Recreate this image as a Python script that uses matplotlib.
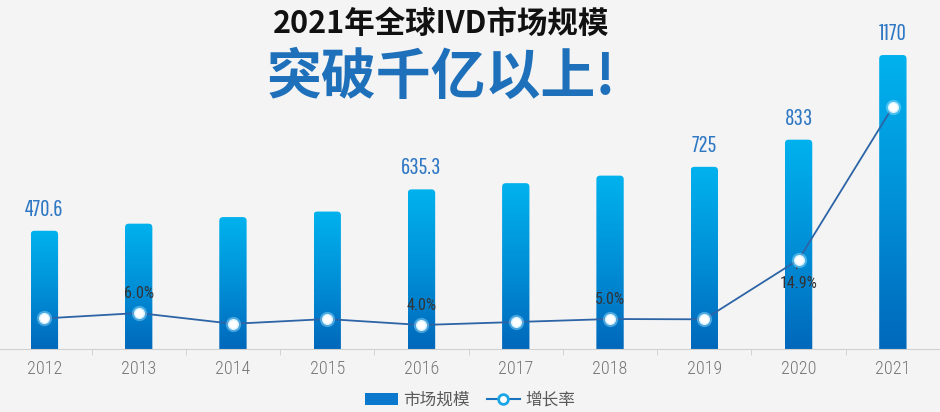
import matplotlib
matplotlib.use("Agg")
import matplotlib.pyplot as plt
import numpy as np
from matplotlib.colors import LinearSegmentedColormap
from matplotlib.patches import FancyBboxPatch, Patch, Rectangle
from matplotlib.lines import Line2D

plt.rcParams['font.family'] = ['Noto Sans CJK SC', 'DejaVu Sans']
plt.rcParams['hatch.color'] = '#e7e7e7'
plt.rcParams['hatch.linewidth'] = 0.6

years = ['2012', '2013', '2014', '2015', '2016', '2017', '2018', '2019', '2020', '2021']
market = [470.6, 498.8, 525, 547, 635.3, 660, 690, 725, 833, 1170]
growth = [5.1, 6.0, 4.2, 5.0, 4.0, 4.5, 5.0, 4.95, 14.9, 40.4]
bar_labels = {0: '470.6', 4: '635.3', 7: '725', 8: '833', 9: '1170'}
pct_labels = {1: '6.0%', 4: '4.0%', 6: '5.0%', 8: '14.9%'}

gothic = ['Pathway Gothic One', 'DejaVu Sans']
cond = ['Roboto Condensed', 'DejaVu Sans']
bg = '#f4f4f4'

fig = plt.figure(figsize=(9.4, 4.12), dpi=100, facecolor=bg)
# faint diagonal texture of the background
fig.patches.append(Rectangle((0, 0), 1, 1, transform=fig.transFigure, facecolor=bg,
                             edgecolor='none', hatch='\\\\\\\\\\\\\\\\\\\\', zorder=-10))

ax = fig.add_axes([0, 63 / 412, 1, 349 / 412])
ax.set_facecolor('none')
x = np.arange(len(years))

bars = ax.bar(x, market, width=0.29, color='none', zorder=2)
cmap = LinearSegmentedColormap.from_list('blu', ['#0068bb', '#0090d8', '#00b2ee'])
grad = np.linspace(0, 1, 256).reshape(-1, 1)
for b in bars:
    bx, bw, bh = b.get_x(), b.get_width(), b.get_height()
    clip = FancyBboxPatch((bx, -40), bw, bh + 40,
                          boxstyle="round,pad=0,rounding_size=0.04",
                          mutation_aspect=380, transform=ax.transData,
                          facecolor='none', edgecolor='none')
    ax.add_patch(clip)
    im = ax.imshow(grad, extent=[bx, bx + bw, 0, bh], origin='lower',
                   aspect='auto', cmap=cmap, zorder=2)
    im.set_clip_path(clip)

for i, lab in bar_labels.items():
    ax.annotate(lab, (x[i], market[i]), xytext=(0, 8), textcoords='offset points',
                ha='center', va='bottom', color='#2f78c4', fontsize=16.5,
                family=gothic)

ax.set_xlim(-0.471, 9.366)
ax.set_ylim(0, 1389)
ax.set_aspect('auto')
for s in ['top', 'right', 'left']:
    ax.spines[s].set_visible(False)
ax.spines['bottom'].set_color('#d0d0d0')
ax.set_yticks([])
ax.set_xticks(x + 0.5, minor=True)
ax.set_xticks(x)
ax.set_xticklabels(years, family=cond, fontsize=13, color='#767676', fontweight='light')
ax.tick_params(axis='x', which='major', length=0, pad=8)
ax.tick_params(axis='x', which='minor', length=4, color='#d0d0d0')

ax2 = ax.twinx()
ax2.set_ylim(0, 58.2)
ax2.axis('off')
ax2.plot(x, growth, color='#2c64a6', lw=1.3, zorder=3)
ax2.plot(x, growth, 'o', ms=11, mfc='#9fe0ff', mec='none', alpha=0.45, zorder=4)
ax2.plot(x, growth, 'o', ms=7, mfc='white', mec='#d8f2ff', mew=1, zorder=5)

for i, lab in pct_labels.items():
    if i == 8:
        ax2.annotate(lab, (x[i], growth[i]), xytext=(0, -12), textcoords='offset points',
                     ha='center', va='top', color='#333333', fontsize=11.5, family=cond)
        ax2.annotate('', (x[i] - 0.01, growth[i] - 0.8), xytext=(x[i] - 0.03, growth[i] - 2.0),
                     arrowprops=dict(arrowstyle='-', color='#404040', lw=0.8))
    else:
        ax2.annotate(lab, (x[i], growth[i]), xytext=(0, 9), textcoords='offset points',
                     ha='center', va='bottom', color='#333333', fontsize=11.5, family=cond)

fig.text(0.469, 0.942, '2021年全球IVD市场规模', ha='center', va='center',
         fontsize=22, fontweight='bold', color='#111111')
fig.text(0.469, 0.812, '突破千亿以上!', ha='center', va='center',
         fontsize=39.5, fontweight='bold', color='#1f70ba')

handles = [Patch(facecolor='#0a78cc', edgecolor='none'),
           Line2D([0], [0], color='#1a73c0', lw=1.5, marker='o', ms=7,
                  mfc='white', mec='#1aa6e6', mew=2)]
fig.legend(handles, ['市场规模', '增长率'], loc='center', bbox_to_anchor=(0.5, 0.028),
           ncol=2, frameon=False, fontsize=12, labelcolor='#595959',
           handlelength=2.0, handletextpad=0.3, columnspacing=1.0)

fig.savefig('out.png', dpi=100, facecolor=bg)
